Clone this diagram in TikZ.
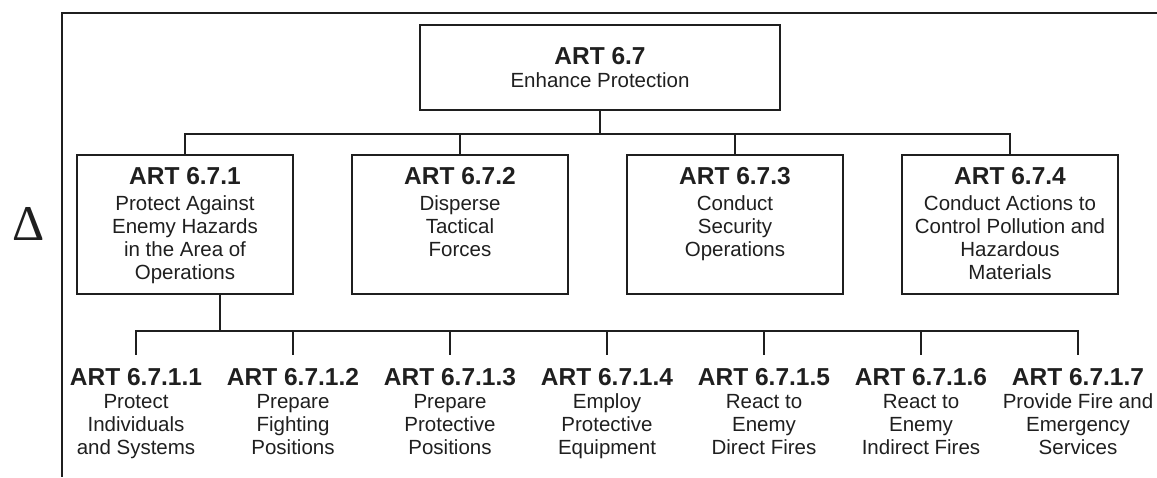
\documentclass[tikz,border=0pt]{standalone}
\usepackage{fontspec}
\setmainfont{Liberation Sans}
\newfontfamily\deltafont{Liberation Serif}
\usetikzlibrary{positioning,calc}

\newcommand{\arttitle}[1]{{\fontsize{24.5}{23}\selectfont\bfseries #1}}
\newcommand{\unittext}[2]{\parbox[t][115pt][t]{200pt}{\centering\arttitle{#1}\\[3.5pt]#2}}

\begin{document}
\begin{tikzpicture}[x=1pt, y=-1pt, node distance=275pt,
	every node/.style={font=\fontsize{20.5}{23}\selectfont, text=black!88},
	head/.style={draw=black!88, line width=2.5pt, minimum width=360pt, minimum height=85pt, align=center},
	unit/.style={draw=black!88, line width=2.5pt, minimum width=216pt, minimum height=139pt, inner xsep=8pt, inner ysep=12pt},
	task/.style={align=center, inner xsep=0pt, inner ysep=13pt, anchor=north},
	link/.style={draw=black!88, line width=2.2pt}]
	\useasboundingbox (0,0) rectangle (1157,477);
	\draw[black!88, line width=2.6pt] (1157,13) -| (62,477);
	\node (delta) at (29,224) {\deltafont\fontsize{50}{50}\selectfont Δ};

	\node[head]   (art)   at (600,67.5)   {\arttitle{ART 6.7}\\Enhance Protection};
	\node[unit]   (p1)    at (185,224.5)  {\unittext{ART 6.7.1}{Protect Against\\Enemy Hazards\\in the Area of\\Operations}};
	\node[unit]   (p2)    [right of=p1]   {\unittext{ART 6.7.2}{Disperse\\Tactical\\Forces}};
	\node[unit]   (p3)    [right of=p2]   {\unittext{ART 6.7.3}{Conduct\\Security\\Operations}};
	\node[unit]   (p4)    [right of=p3]   {\unittext{ART 6.7.4}{Conduct Actions to\\Control Pollution and\\Hazardous\\Materials}};

	\node[task]   (t1)    at (136,355)    {\arttitle{ART 6.7.1.1}\\Protect\\Individuals\\and Systems};
	\node[task]   (t2)    at (293,355)    {\arttitle{ART 6.7.1.2}\\Prepare\\Fighting\\Positions};
	\node[task]   (t3)    at (450,355)    {\arttitle{ART 6.7.1.3}\\Prepare\\Protective\\Positions};
	\node[task]   (t4)    at (607,355)    {\arttitle{ART 6.7.1.4}\\Employ\\Protective\\Equipment};
	\node[task]   (t5)    at (764,355)    {\arttitle{ART 6.7.1.5}\\React to\\Enemy\\Direct Fires};
	\node[task]   (t6)    at (921,355)    {\arttitle{ART 6.7.1.6}\\React to\\Enemy\\Indirect Fires};
	\node[task]   (t7)    at (1078,355)   {\arttitle{ART 6.7.1.7}\\Provide Fire and\\Emergency\\Services};

	%top level to subordinate tasks
	\coordinate (bus) at ($(art.south)+(0,23)$);
	\draw[link] (art.south) -- (bus) -| (p1.north);
	\draw[link] (bus) -| (p2.north);
	\draw[link] (bus) -| (p3.north);
	\draw[link] (bus) -| (p4.north);

	%ART 6.7.1 to its tasks
	\coordinate (fork) at ($(p1.south)+(35,36)$);
	\draw[link] (p1.south -| fork) -- (fork) -| (t1.north);
	\draw[link] (fork) -| (t2.north);
	\draw[link] (fork) -| (t3.north);
	\draw[link] (fork) -| (t4.north);
	\draw[link] (fork) -| (t5.north);
	\draw[link] (fork) -| (t6.north);
	\draw[link] (fork) -| (t7.north);
\end{tikzpicture}
\end{document}
